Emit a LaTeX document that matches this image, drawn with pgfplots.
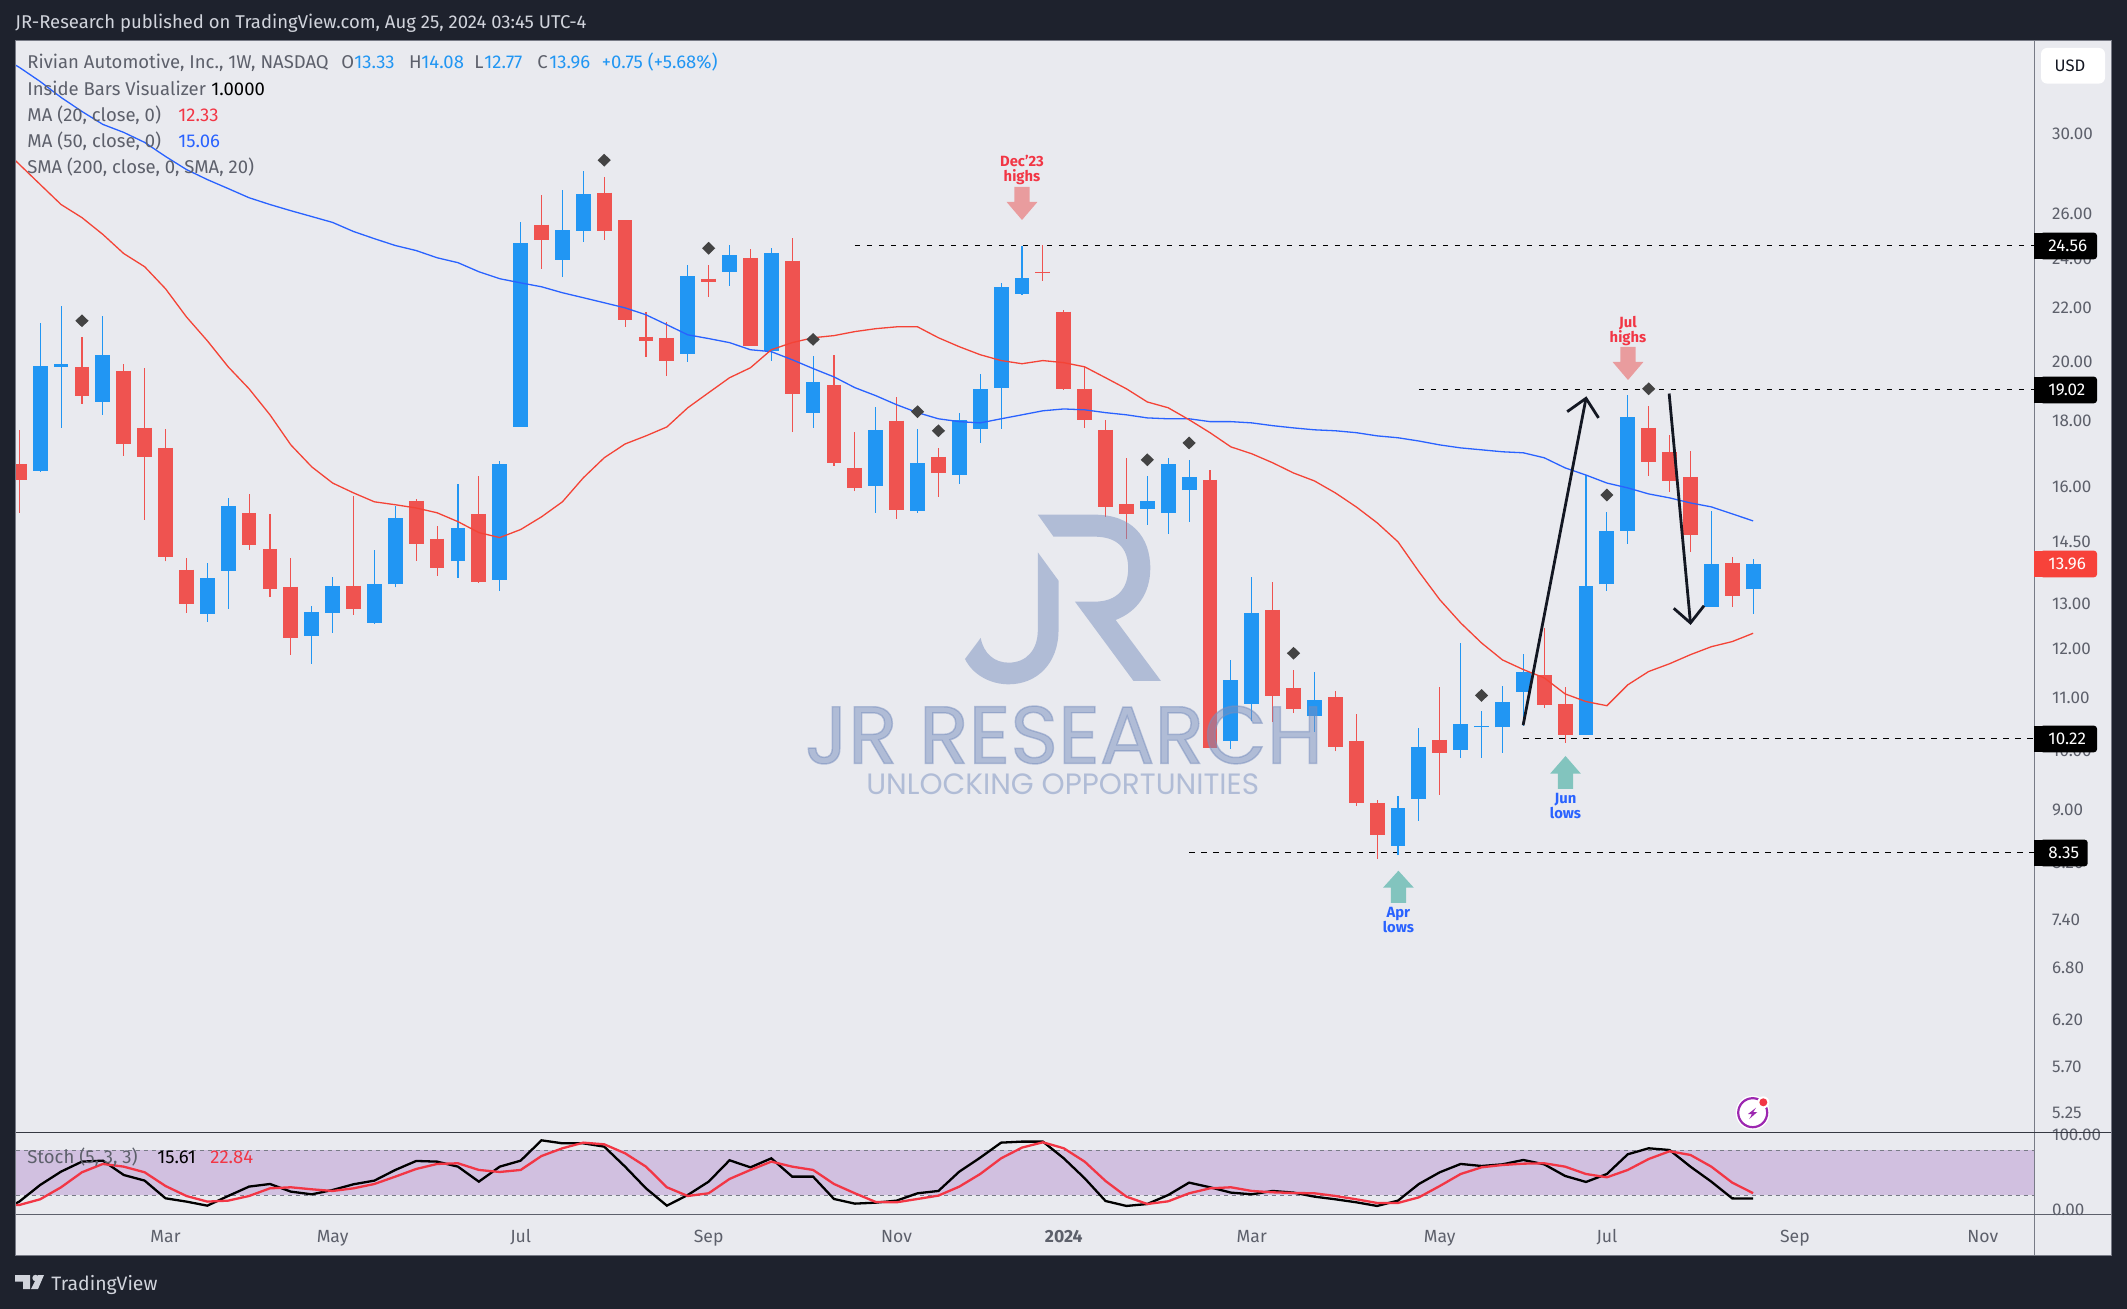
\documentclass[border=0pt]{standalone}
\usepackage{pgfplots}
\pgfplotsset{compat=1.18}
\usepackage{fontspec}
\setmainfont{Fira Sans}
\newfontfamily\wm{Poppins}
\newfontfamily\wmb[FakeBold=1.8]{Poppins}
\definecolor{dark}{HTML}{1E222D}
\definecolor{panel}{HTML}{E9EAEF}
\definecolor{cblue}{HTML}{2196F3}
\definecolor{cred}{HTML}{EF5350}
\definecolor{lab}{HTML}{5D606B}
\definecolor{fr}{HTML}{787B86}
\definecolor{ma20}{HTML}{F44336}
\definecolor{ma50}{HTML}{2962FF}
\definecolor{band}{HTML}{D1C0E0}
\definecolor{sred}{HTML}{F23645}
\definecolor{dia}{HTML}{434343}
\definecolor{arr}{HTML}{131722}
\definecolor{wmk}{HTML}{798FBE}
\definecolor{pinkarrow}{HTML}{E99C9E}
\definecolor{tealarrow}{HTML}{82C4BE}
\definecolor{hdr}{HTML}{D1D4DC}
\definecolor{purp}{HTML}{9C27B0}
\definecolor{tagred}{HTML}{F7423A}
\pgfdeclareplotmark{dia}{\pgfpathmoveto{\pgfqpoint{0pt}{3.2pt}}\pgfpathlineto{\pgfqpoint{3.3pt}{0pt}}\pgfpathlineto{\pgfqpoint{0pt}{-3.2pt}}\pgfpathlineto{\pgfqpoint{-3.3pt}{0pt}}\pgfpathclose\pgfusepathqfill}
% i, open, high, low, close
\newcommand{\B}[5]{\addplot[cblue,line width=.55pt,mark=none] coordinates {(#1,#4)(#1,#3)};\addplot[cblue,line width=7.4pt,mark=none] coordinates {(#1,#2)(#1,#5)};}
\newcommand{\R}[5]{\addplot[cred,line width=.55pt,mark=none] coordinates {(#1,#4)(#1,#3)};\addplot[cred,line width=7.4pt,mark=none] coordinates {(#1,#2)(#1,#5)};}
\begin{document}
\begin{tikzpicture}[x=.5pt,y=-.5pt]
\fill[dark] (0,0) rectangle (2127,1309);
\fill[panel] (15.6,41) rectangle (2111,1255.6);
\coordinate (A) at (15.6,41);
\coordinate (S) at (15.6,1132.3);
\begin{axis}[at={(A)},anchor=north west,scale only axis,width=1009.2pt,height=545.65pt,
  ymode=log,ymin=5.075,ymax=35.37,xmin=-0.177,xmax=96.45,
  axis line style={draw=none},
  xtick=\empty,
  ytick={5.25,5.7,6.2,6.8,7.4,8.2,9,10,11,12,13,14.5,16,18,20,22,24,26,30},
  yticklabels={5.25,5.70,6.20,6.80,7.40,8.20,9.00,10.00,11.00,12.00,13.00,14.50,16.00,18.00,20.00,22.00,24.00,26.00,30.00},
  yticklabel pos=right,major tick length=0pt,
  yticklabel style={font=\fontsize{8.5}{10}\selectfont,text=lab,anchor=west,xshift=5.5pt}]
% dashed levels
\addplot[black,line width=.5pt,dash pattern=on 2.75pt off 3.25pt] coordinates {(40,24.56)(96.45,24.56)};
\addplot[black,line width=.5pt,dash pattern=on 2.75pt off 3.25pt] coordinates {(67,19.02)(96.45,19.02)};
\addplot[black,line width=.5pt,dash pattern=on 2.75pt off 3.25pt] coordinates {(72,10.22)(96.45,10.22)};
\addplot[black,line width=.5pt,dash pattern=on 2.75pt off 3.25pt] coordinates {(56,8.35)(96.45,8.35)};
% candles
\R{0}{16.67}{17.71}{15.28}{16.20}
\B{1}{16.46}{21.43}{16.43}{19.85}
\B{2}{19.81}{22.09}{17.77}{19.92}
\R{3}{19.81}{20.90}{18.55}{18.82}
\B{4}{18.61}{21.69}{18.19}{20.24}
\R{5}{19.68}{19.92}{16.91}{17.27}
\R{6}{17.77}{19.78}{15.09}{16.88}
\R{7}{17.15}{17.74}{14.01}{14.13}
\R{8}{13.81}{14.11}{12.79}{13.00}
\B{9}{12.77}{13.98}{12.59}{13.61}
\B{10}{13.78}{15.69}{12.88}{15.47}
\R{11}{15.28}{15.80}{14.31}{14.43}
\R{12}{14.33}{15.25}{13.16}{13.35}
\R{13}{13.40}{14.11}{11.87}{12.23}
\B{14}{12.28}{12.95}{11.68}{12.81}
\B{15}{12.79}{13.63}{12.34}{13.42}
\R{16}{13.42}{15.75}{12.74}{12.88}
\B{17}{12.56}{14.31}{12.54}{13.47}
\B{18}{13.45}{15.47}{13.38}{15.14}
\R{19}{15.61}{15.66}{14.03}{14.46}
\R{20}{14.59}{14.93}{13.66}{13.86}
\B{21}{14.01}{16.09}{13.61}{14.88}
\R{22}{15.25}{16.32}{13.49}{13.51}
\B{23}{13.56}{16.76}{13.30}{16.67}
\B{24}{17.80}{25.65}{17.80}{24.71}
\R{25}{25.51}{26.90}{23.59}{24.80}
\B{26}{23.97}{27.15}{23.26}{25.29}
\B{27}{25.24}{28.09}{24.75}{26.95}
\R{28}{27.00}{27.79}{24.84}{25.24}
\R{29}{25.70}{25.74}{21.27}{21.54}
\R{30}{20.90}{21.85}{20.17}{20.75}
\R{31}{20.86}{21.46}{19.50}{20.03}
\B{32}{20.28}{23.76}{19.99}{23.30}
\R{33}{23.17}{23.76}{22.44}{23.04}
\B{34}{23.46}{24.62}{22.88}{24.18}
\R{35}{24.05}{24.44}{20.57}{20.57}
\B{36}{20.38}{24.49}{20.03}{24.27}
\R{37}{23.93}{24.89}{17.64}{18.88}
\B{38}{18.26}{20.20}{17.77}{19.29}
\R{39}{19.19}{20.24}{16.61}{16.70}
\R{40}{16.55}{17.64}{15.88}{15.97}
\B{41}{16.03}{18.45}{15.28}{17.71}
\R{42}{18.00}{18.78}{15.12}{15.36}
\B{43}{15.33}{17.74}{15.28}{16.70}
\R{44}{16.88}{17.15}{15.72}{16.40}
\B{45}{16.34}{18.26}{16.09}{18.03}
\B{46}{17.74}{19.57}{17.30}{19.05}
\B{47}{19.09}{23.00}{17.74}{22.84}
\B{48}{22.56}{24.56}{22.52}{23.21}
\R{49}{23.46}{24.62}{23.09}{23.42}
\R{50}{21.85}{21.93}{19.02}{19.05}
\R{51}{19.05}{19.81}{17.77}{18.03}
\R{52}{17.71}{18.03}{15.17}{15.44}
\R{53}{15.52}{16.85}{14.59}{15.25}
\B{54}{15.39}{16.32}{14.96}{15.61}
\B{55}{15.28}{16.85}{14.72}{16.67}
\B{56}{15.91}{16.79}{15.04}{16.29}
\R{57}{16.20}{16.49}{10.06}{10.06}
\B{58}{10.18}{11.76}{10.04}{11.35}
\B{59}{10.88}{13.63}{10.55}{12.79}
\R{60}{12.86}{13.51}{10.53}{11.02}
\R{61}{11.19}{11.56}{10.70}{10.78}
\B{62}{10.64}{11.50}{10.35}{10.96}
\R{63}{11.00}{11.13}{10.00}{10.07}
\R{64}{10.18}{10.68}{9.07}{9.11}
\R{65}{9.12}{9.17}{8.26}{8.61}
\B{66}{8.45}{9.23}{8.31}{9.04}
\B{67}{9.19}{10.41}{8.83}{10.07}
\R{68}{10.20}{11.21}{9.25}{9.97}
\B{69}{10.02}{12.12}{9.88}{10.50}
\B{70}{10.43}{10.74}{9.88}{10.45}
\B{71}{10.43}{11.23}{9.97}{10.92}
\B{72}{11.11}{11.89}{10.46}{11.52}
\R{73}{11.44}{12.45}{10.80}{10.86}
\R{74}{10.88}{11.21}{10.15}{10.29}
\B{75}{10.29}{16.34}{10.29}{13.42}
\B{76}{13.45}{15.31}{13.30}{14.80}
\B{77}{14.80}{18.85}{14.46}{18.12}
\R{78}{17.77}{18.48}{16.32}{16.73}
\R{79}{17.03}{17.55}{15.86}{16.17}
\R{80}{16.29}{17.06}{14.26}{14.70}
\B{81}{12.93}{15.33}{12.93}{13.96}
\R{82}{13.98}{14.13}{12.93}{13.18}
\B{83}{13.33}{14.08}{12.77}{13.96}
% MA 50
\addplot[ma50,line width=.65pt] coordinates {(-1,34.5)(0,33.75)(1,32.91)(2,31.99)(3,31.20)(4,30.49)(5,30.06)(6,29.53)(7,28.80)(8,28.14)(9,27.64)(10,27.20)(11,26.76)(12,26.44)(13,26.15)(14,25.88)(15,25.61)(16,25.20)(17,24.88)(18,24.58)(19,24.36)(20,24.05)(21,23.84)(22,23.46)(23,23.17)(24,23.00)(25,22.84)(26,22.60)(27,22.40)(28,22.20)(29,22.00)(30,21.73)(31,21.35)(32,20.97)(33,20.83)(34,20.68)(35,20.42)(36,20.35)(37,20.06)(38,19.75)(39,19.46)(40,19.09)(41,18.82)(42,18.52)(43,18.26)(44,18.06)(45,17.97)(46,17.93)(47,18.06)(48,18.19)(49,18.32)(50,18.38)(51,18.35)(52,18.26)(53,18.19)(54,18.09)(55,18.06)(56,18.06)(57,17.97)(58,17.97)(59,17.93)(60,17.84)(61,17.77)(62,17.71)(63,17.68)(64,17.62)(65,17.52)(66,17.46)(67,17.36)(68,17.24)(69,17.15)(70,17.09)(71,17.03)(72,17.00)(73,16.85)(74,16.55)(75,16.34)(76,16.11)(77,15.97)(78,15.80)(79,15.69)(80,15.55)(81,15.44)(82,15.25)(83,15.06)};
% MA 20
\addplot[ma20,line width=.65pt] coordinates {(-1,29.43)(0,28.40)(1,27.40)(2,26.44)(3,25.83)(4,25.07)(5,24.23)(6,23.67)(7,22.76)(8,21.65)(9,20.75)(10,19.81)(11,19.05)(12,18.19)(13,17.24)(14,16.58)(15,16.11)(16,15.83)(17,15.58)(18,15.50)(19,15.41)(20,15.28)(21,15.04)(22,14.75)(23,14.62)(24,14.83)(25,15.17)(26,15.58)(27,16.26)(28,16.85)(29,17.27)(30,17.52)(31,17.80)(32,18.42)(33,18.92)(34,19.43)(35,19.78)(36,20.42)(37,20.68)(38,20.86)(39,20.94)(40,21.09)(41,21.20)(42,21.27)(43,21.27)(44,20.86)(45,20.53)(46,20.24)(47,20.03)(48,19.92)(49,20.03)(50,19.96)(51,19.81)(52,19.43)(53,19.05)(54,18.61)(55,18.42)(56,18.03)(57,17.62)(58,17.18)(59,16.97)(60,16.70)(61,16.40)(62,16.17)(63,15.83)(64,15.44)(65,15.01)(66,14.51)(67,13.76)(68,13.09)(69,12.56)(70,12.12)(71,11.76)(72,11.56)(73,11.39)(74,11.07)(75,10.92)(76,10.84)(77,11.25)(78,11.52)(79,11.68)(80,11.87)(81,12.04)(82,12.15)(83,12.33)};
% inside-bar diamonds
\addplot[only marks,mark=dia,color=dia] coordinates {(3,21.5)(28,28.61)(33,24.46)(38,20.80)(43,18.29)(44,17.68)(54,16.79)(56,17.30)(61,11.90)(70,11.04)(76,15.77)(78,19.05)};
% hand-drawn arrows
\addplot[arr,line width=1.4pt] coordinates {(71.99,10.47)(75.0,18.73)};
\addplot[arr,line width=1.4pt] coordinates {(74.1,18.29)(75.0,18.73)(75.6,18.09)};
\addplot[arr,line width=1.4pt] coordinates {(78.98,18.89)(80.0,12.56)};
\addplot[arr,line width=1.4pt] coordinates {(79.2,12.89)(80.0,12.56)(80.65,12.95)};
\end{axis}
\begin{axis}[at={(S)},anchor=north west,scale only axis,width=1009.2pt,height=41pt,
  ymin=-5.33,ymax=104,xmin=-0.177,xmax=96.45,
  axis line style={draw=none},
  xtick={7,15,24,33,42,50,59,68,76,85,94},
  xticklabels={Mar,May,Jul,Sep,Nov,\textbf{2024},Mar,May,Jul,Sep,Nov},
  ytick={0,100},yticklabels={0.00,100.00},
  yticklabel pos=right,major tick length=0pt,
  yticklabel style={font=\fontsize{8.5}{10}\selectfont,text=lab,anchor=west,xshift=5.5pt},
  xticklabel style={font=\fontsize{8.8}{10}\selectfont,text=lab,anchor=base,yshift=-14.3pt},
  no markers]
\addplot[draw=none,fill=band] coordinates {(-0.177,20)(96.45,20)(96.45,80)(-0.177,80)} --cycle;
\addplot[fr,line width=.55pt,dash pattern=on 2pt off 2pt] coordinates {(-0.177,80)(96.45,80)};
\addplot[fr,line width=.55pt,dash pattern=on 2pt off 2pt] coordinates {(-0.177,20)(96.45,20)};
\addplot[black,line width=1.15pt] coordinates {(-0.18,9)(0,11.6)(1,33.8)(2,51.6)(3,64.9)(4,66.2)(5,47.1)(6,39.6)(7,16)(8,11.6)(9,6.2)(10,19.1)(11,31.6)(12,35.1)(13,24.9)(14,21.3)(15,27.1)(16,34.7)(17,39.6)(18,53.8)(19,65.8)(20,64.9)(21,58.2)(22,38.2)(23,58.2)(24,66.2)(25,93.3)(26,89.3)(27,89.3)(28,84.9)(29,58.2)(30,29.3)(31,6.2)(32,20.4)(33,38.2)(34,66.7)(35,57.3)(36,69.3)(37,44.9)(38,44.9)(39,15.1)(40,8.9)(41,10.2)(42,12.9)(43,22.7)(44,25.8)(45,51.6)(46,70.2)(47,90.2)(48,91.6)(49,91.6)(50,69.3)(51,42.7)(52,12.4)(53,5.8)(54,8.4)(55,20.4)(56,36.9)(57,30.7)(58,23.6)(59,21.3)(60,25.8)(61,23.6)(62,18.2)(63,14.7)(64,10.7)(65,5.8)(66,12.9)(67,35.1)(68,50.7)(69,61.8)(70,59.1)(71,61.3)(72,67.1)(73,61.3)(74,45.8)(75,37.8)(76,48.4)(77,74.7)(78,82.7)(79,80.4)(80,58.2)(81,38.2)(82,15.9)(83,15.61)};
\addplot[sred,line width=1.15pt] coordinates {(-0.18,7)(0,7.1)(1,14.7)(2,30.7)(3,50.7)(4,61.8)(5,58.2)(6,50.7)(7,32.4)(8,19.1)(9,11.6)(10,12.9)(11,19.1)(12,29.3)(13,30.7)(14,28)(15,25.8)(16,29.3)(17,35.1)(18,44.9)(19,55.1)(20,61.8)(21,62.7)(22,53.8)(23,51.1)(24,53.8)(25,72.4)(26,82.7)(27,90.2)(28,88)(29,76)(30,58.2)(31,30.7)(32,19.1)(33,22.7)(34,41.8)(35,53.8)(36,64.9)(37,58.2)(38,53.8)(39,35.1)(40,22.7)(41,11.1)(42,10.7)(43,15.1)(44,19.6)(45,31.6)(46,48.4)(47,69.3)(48,83.6)(49,90.7)(50,82.7)(51,64.9)(52,39.1)(53,18.2)(54,8.4)(55,12)(56,22.7)(57,29.3)(58,30.7)(59,25.8)(60,24)(61,23.1)(62,22.7)(63,19.1)(64,14.7)(65,9.8)(66,9.8)(67,17.3)(68,32.4)(69,48.4)(70,57.3)(71,60.4)(72,62.2)(73,62.7)(74,58.2)(75,48.4)(76,44)(77,53.8)(78,68.4)(79,78.7)(80,73.8)(81,58.2)(82,36.9)(83,22.84)};
\end{axis}
% frame
\draw[fr,line width=.5pt] (15.6,41) rectangle (2111,1255.6);
\draw[fr,line width=.5pt] (2034,41) -- (2034,1255.6);
\draw[dark!90,line width=.6pt] (15.6,1132.3) -- (2111,1132.3);
\draw[lab,line width=.6pt] (15.6,1214.3) -- (2111,1214.3);
% watermark
\begin{scope}[shift={(780,500)},x=.5pt/2.8,y=-.5pt/3]
\fill[wmk,opacity=.5] (722,44) -- (880,44) .. controls (985,44) and (1037,110) .. (1037,205) .. controls (1037,280) and (1000,335) .. (940,360) -- (1067,543) -- (990,543) -- (826,305) -- (880,305) .. controls (945,305) and (975,265) .. (975,205) .. controls (975,145) and (945,110) .. (880,110) -- (766,110) -- cycle;
\fill[wmk,opacity=.5] (722,157) -- (780,242) -- (780,390) .. controls (780,490) and (720,553) .. (640,553) .. controls (590,553) and (540,525) .. (518,477) -- (562,414) .. controls (570,460) and (600,488) .. (640,488) .. controls (690,488) and (722,450) .. (722,390) -- cycle;
\end{scope}
\node[anchor=center,inner sep=0,text=wmk,text opacity=.5] at (1064,735) {\resizebox{259pt}{!}{\wmb JR RESEARCH}};
\node[anchor=center,inner sep=0,text=wmk,text opacity=.5] at (1062.7,784.5) {\resizebox{196.3pt}{!}{\wm UNLOCKING OPPORTUNITIES}};
% note arrows
\fill[pinkarrow] (1014.4,187) -- (1029.6,187) -- (1029.6,202) -- (1037.4,202) -- (1022,220) -- (1006.6,202) -- (1014.4,202) -- cycle;
\fill[pinkarrow] (1620.4,347) -- (1635.6,347) -- (1635.6,362) -- (1643.4,362) -- (1628,380) -- (1612.6,362) -- (1620.4,362) -- cycle;
\fill[tealarrow] (1390.8,903) -- (1406,903) -- (1406,887.7) -- (1413.8,887.7) -- (1398.4,870.7) -- (1383,887.7) -- (1390.8,887.7) -- cycle;
\fill[tealarrow] (1557.9,789) -- (1573.1,789) -- (1573.1,773.7) -- (1580.9,773.7) -- (1565.5,756) -- (1550.1,773.7) -- (1557.9,773.7) -- cycle;
\begin{scope}[every node/.style={inner sep=0,anchor=base,font=\fontsize{7.4}{8}\selectfont\bfseries}]
\node[text=sred] at (1022,167) {Dec'23};
\node[text=sred] at (1022,182) {highs};
\node[text=sred] at (1628,328) {Jul};
\node[text=sred] at (1628,343) {highs};
\node[text=ma50] at (1398.4,918) {Apr};
\node[text=ma50] at (1398.4,933) {lows};
\node[text=ma50] at (1565.5,804) {Jun};
\node[text=ma50] at (1565.5,819) {lows};
\end{scope}
% legend text
\begin{scope}[every node/.style={inner sep=0,anchor=base west,font=\fontsize{9.25}{10}\selectfont,text=lab}]
\node[text=hdr] at (15,29) {JR-Research published on TradingView.com, Aug 25, 2024 03:45 UTC-4};
\node at (27,69) {Rivian Automotive, Inc., 1W, NASDAQ};
\node at (341,69) {O};
\node[text=cblue] at (354,69) {13.33};
\node at (408.6,69) {H};
\node[text=cblue] at (421,69) {14.08};
\node at (474,69) {L};
\node[text=cblue] at (484,69) {12.77};
\node at (537,69) {C};
\node[text=cblue] at (549,69) {13.96};
\node[text=cblue] at (601.5,69) {+0.75 (+5.68\%)};
\node at (27,96) {Inside Bars Visualizer};
\node[text=black] at (211,96) {1.0000};
\node at (27,122) {MA (20, close, 0)};
\node[text=sred] at (178,122) {12.33};
\node at (27,148) {MA (50, close, 0)};
\node[text=ma50] at (178,148) {15.06};
\node at (27,174) {SMA (200, close, 0, SMA, 20)};
\node at (27,1163) {Stoch (5, 3, 3)};
\node[text=black] at (157,1163) {15.61};
\node[text=sred] at (210,1163) {22.84};
\node[text=hdr,font=\fontsize{9.7}{10}\selectfont] at (51,1290) {TradingView};
\end{scope}
% TV logo
\fill[hdr] (15,1275) -- (30,1275) -- (30,1289) -- (23,1289) -- (23,1281.5) -- (15,1281.5) -- cycle;
\fill[hdr] (35.5,1278) circle (3.2);
\fill[hdr] (38,1275) -- (44,1275) -- (38,1289) -- (31,1289) -- cycle;
% USD
\fill[white,rounded corners=3pt] (2041,48) rectangle (2105,83.6);
\node[inner sep=0,font=\fontsize{8.3}{10}\selectfont,text=arr] at (2070,66) {USD};
% price tags
\newcommand{\Tag}[4]{\fill[#4,rounded corners=1.5pt] (2040,#2-13.3) rectangle (#3,#2+13.3);\fill[#4] (2034,#2-13.3) rectangle (2044,#2+13.3);\node[inner sep=0,anchor=base west,text=white,font=\fontsize{8.5}{10}\selectfont] at (2048,#2+6) {#1};}
\Tag{24.56}{246}{2097}{black}
\Tag{19.02}{390}{2097}{black}
\Tag{13.96}{564}{2097}{tagred}
\Tag{10.22}{739}{2097}{black}
\Tag{8.35}{853}{2087.7}{black}
% icon
\fill[white] (1752.7,1112.7) circle (17);
\draw[purp,line width=1.1pt] (1752.7,1112.7) circle (14.5);
\fill[purp] (1756,1107.7) -- (1748,1114) -- (1752,1114) -- (1749.3,1119) -- (1757.3,1112) -- (1753.3,1112) -- cycle;
\fill[white] (1763.3,1102.3) circle (6);
\fill[sred] (1763.3,1102.3) circle (4);
\end{tikzpicture}
\end{document}
